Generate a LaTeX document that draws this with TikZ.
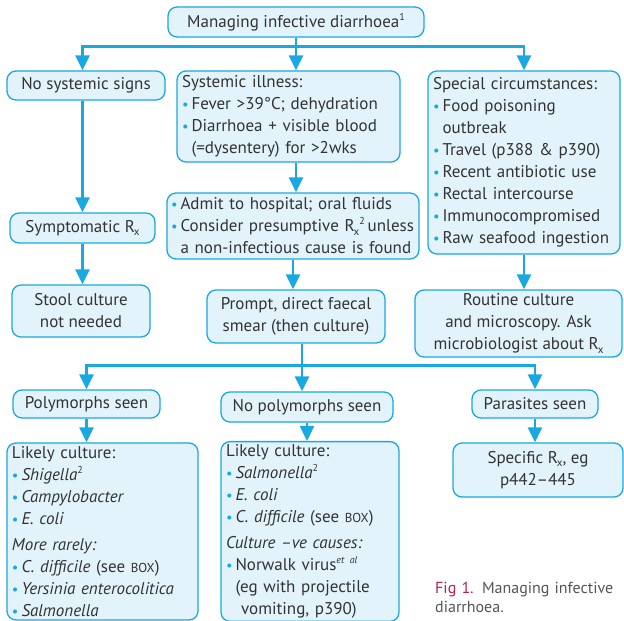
\documentclass[tikz,border=0pt]{standalone}
\usepackage{fontspec}
\setmainfont{PT Sans}
\usepackage{xcolor}
\usepackage{tikz}
\usetikzlibrary{arrows.meta,positioning,calc}
\definecolor{ink}{HTML}{333333}
\definecolor{cyanline}{HTML}{1AA8E2}
\definecolor{boxfill}{HTML}{E2F3FB}
\definecolor{figred}{HTML}{B8204F}
\definecolor{capgrey}{HTML}{555555}
\hyphenpenalty=10000
\newcommand\bul{{\color{cyanline}\scalebox{0.85}{\textbullet}}\hspace{3pt}}
\newcommand\ind{\phantom{\bul}}
\newcommand\Rx{R\kern-0.06em\raisebox{-0.4ex}{\fontsize{11}{11}\selectfont x}}
\newcommand\sups[1]{\raisebox{0.85ex}{\fontsize{10}{10}\selectfont #1}}
\newcommand\boxref{{\fontsize{13}{13}\selectfont BOX}}
\tikzset{
  box/.style={draw=cyanline,fill=boxfill,line width=1.3pt,rounded corners=9pt,text=ink,font=\fontsize{17}{22}\selectfont,inner xsep=5pt,inner ysep=3pt},
  cbox/.style={box,align=center},
  lbox/.style={box,align=left},
  link/.style={draw=cyanline,line width=2.6pt},
  flow/.style={link,-{Triangle[length=15pt,width=14pt]}},
  caption/.style={text=capgrey,font=\fontsize{16}{19}\selectfont,align=justify,text width=178pt,inner sep=0pt,anchor=north west}
}

\begin{document}
\begin{tikzpicture}[x=1pt,y=-1pt]
  \useasboundingbox (0,0) rectangle (624,621);
  % top level
  \node[cbox,minimum width=256pt,minimum height=30pt] (top) at (296,22) {Managing infective diarrhoea\sups{1}};
  \node[cbox,minimum width=158pt,minimum height=29pt] (nosys) at (86,85.5) {No systemic signs};
  \node[lbox,text width=213pt,minimum height=91pt] (sys) at (288.5,116.5) {Systemic illness:\\\bul Fever >39°C; dehydration\\\bul Diarrhoea + visible blood\\\ind(=dysentery) for >2wks};
  \node[lbox,text width=182pt,minimum height=183pt] (spec) at (524,162.5) {Special circumstances:\\\bul Food poisoning\\\ind outbreak\\\bul Travel (p388 \& p390)\\\bul Recent antibiotic use\\\bul Rectal intercourse\\\bul Immunocompromised\\\bul Raw seafood ingestion};
  % second level
  \node[cbox,minimum width=145pt,minimum height=30pt] (symp) at (82.5,228) {Symptomatic \Rx};
  \node[cbox,minimum width=138pt,minimum height=52pt] (stool) at (81,311) {Stool culture\\not needed};
  \node[lbox,text width=244pt,inner xsep=4pt,minimum height=66pt] (admit) at (293,226) {\bul Admit to hospital; oral fluids\\\bul Consider presumptive \Rx\sups{2}\,unless\\\ind a non-infectious cause is found};
  \node[cbox,minimum width=178pt,minimum height=53pt] (smear) at (296,316.5) {Prompt, direct faecal\\smear (then culture)};
  \node[cbox,minimum width=207pt,minimum height=67pt] (routine) at (518.5,323.5) {Routine culture\\and microscopy. Ask\\microbiologist about \Rx};
  % smear results
  \node[cbox,minimum width=147pt,minimum height=28pt] (poly) at (86.5,404) {Polymorphs seen};
  \node[cbox,minimum width=172pt,minimum height=30pt] (nopoly) at (307,407) {No polymorphs seen};
  \node[cbox,minimum width=126pt,minimum height=28pt] (para) at (535,404) {Parasites seen};
  \node[lbox,text width=181pt,minimum height=177pt] (cult1) at (102.5,531.5) {Likely culture:\\\bul\textit{Shigella}\sups{2}\\\bul\textit{Campylobacter}\\\bul\textit{E. coli}\\[4pt]\textit{More rarely:}\\\bul\textit{C. difficile} (see \boxref)\\\bul\textit{Yersinia enterocolitica}\\\bul\textit{Salmonella}};
  \node[lbox,text width=168pt,minimum height=177pt] (cult2) at (310,531.5) {Likely culture:\\\bul\textit{Salmonella}\sups{2}\\\bul\textit{E. coli}\\\bul\textit{C. difficile} (see \boxref)\\[4pt]\textit{Culture --ve causes:}\\\bul Norwalk virus\sups{\itshape et al}\\\ind(eg with projectile\\\ind\ vomiting, p390)};
  \node[cbox,minimum width=170pt,minimum height=54pt] (parrx) at (538,470) {Specific \Rx, eg\\p442--445};
  \node[caption] (cap) at (435,582) {{\color{figred}Fig 1.} Managing infective diarrhoea.};
  % connectors
  \draw[link] (top.south) -- ++(0,9) coordinate (split1);
  \draw[flow] (split1) -| (symp.north |- nosys.north);
  \draw[flow] (split1) -- (split1 |- sys.north);
  \draw[flow] (split1) -| (spec.north);
  \draw[flow] (symp.north |- nosys.south) -- (symp.north);
  \draw[flow] (symp.south) -- (symp.south |- stool.north);
  \draw[flow] (split1 |- sys.south) -- (split1 |- admit.north);
  \draw[flow] (admit.south) -- (admit.south |- smear.north);
  \draw[flow] (spec.south) -- (spec.south |- routine.north);
  \draw[link] ([xshift=6pt]smear.south) -- ++(0,22) coordinate (split2);
  \draw[flow] (split2) -| (poly.north);
  \draw[flow] (split2) -- (split2 |- nopoly.north);
  \draw[flow] (split2) -| (para.north);
  \draw[flow] (poly.south) -- (poly.south |- cult1.north);
  \draw[flow] (nopoly.south) -- (nopoly.south |- cult2.north);
  \draw[flow] (para.south) -- (para.south |- parrx.north);
\end{tikzpicture}
\end{document}
